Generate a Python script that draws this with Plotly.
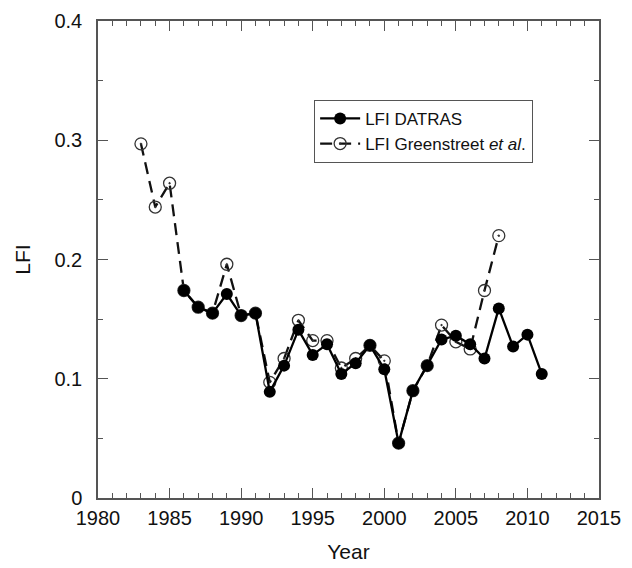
import plotly.graph_objects as go

datras_years = list(range(1986, 2012))
datras_lfi = [0.174, 0.160, 0.155, 0.171, 0.153, 0.155, 0.089, 0.111, 0.141, 0.120,
              0.129, 0.104, 0.113, 0.128, 0.108, 0.046, 0.090, 0.111, 0.133, 0.136,
              0.129, 0.117, 0.159, 0.127, 0.137, 0.104]

green_years = list(range(1983, 2009))
green_lfi = [0.297, 0.244, 0.264, 0.174, 0.160, 0.155, 0.196, 0.153, 0.155, 0.097,
             0.117, 0.149, 0.132, 0.132, 0.109, 0.117, 0.128, 0.115, 0.046, 0.090,
             0.111, 0.145, 0.131, 0.125, 0.174, 0.220]

x_ticks = [1980, 1985, 1990, 1995, 2000, 2005, 2010, 2015]
y_ticks = [0, 0.1, 0.2, 0.3, 0.4]
y_labels = ["0", "0.1", "0.2", "0.3", "0.4"]

FONT = "Liberation Sans, Arial"

fig = go.Figure()
fig.add_trace(go.Scatter(
    x=green_years, y=green_lfi, mode="lines+markers",
    name="LFI Greenstreet <i>et al</i>.",
    line=dict(color="#111111", width=2.3, dash="12px,7px"),
    marker=dict(symbol="circle-open-dot", size=12, color="#333333", line=dict(width=1.3, color="#333333")),
    legendrank=2,
))
fig.add_trace(go.Scatter(
    x=datras_years, y=datras_lfi, mode="lines+markers",
    name="LFI DATRAS",
    line=dict(color="#000000", width=2.3),
    marker=dict(symbol="circle", size=12, color="#000000"),
    legendrank=1,
))

axis_common = dict(
    showline=True, linecolor="#555555", linewidth=1.5, mirror="ticks",
    ticks="inside", ticklen=10, tickwidth=1.2, tickcolor="#555555",
    showgrid=False, zeroline=False, automargin=False,
    tickfont=dict(family=FONT, size=20, color="#111111"),
)
fig.update_xaxes(range=[1980, 2015], tickvals=x_ticks, **axis_common,
                 minor=dict(ticks="inside", dtick=1, ticklen=5, tickcolor="#555555", tickwidth=1),
                 title=dict(text="Year", font=dict(family=FONT, size=21, color="#111111"), standoff=17),
                 ticklabelstandoff=1)
fig.update_yaxes(range=[0, 0.4], tickvals=y_ticks, ticktext=y_labels, **axis_common,
                 minor=dict(ticks="inside", dtick=0.05, ticklen=5, tickcolor="#555555", tickwidth=1),
                 title=dict(text="LFI", font=dict(family=FONT, size=21, color="#111111"), standoff=18),
                 ticklabelstandoff=10)

fig.update_layout(
    width=624, height=560,
    margin=dict(l=90, r=33, t=13, b=70),
    plot_bgcolor="white", paper_bgcolor="white",
    legend=dict(x=0.431, y=0.835, xanchor="left", yanchor="top",
                bordercolor="#555555", borderwidth=1.2, bgcolor="white",
                font=dict(family=FONT, size=17, color="#111111"),
                tracegroupgap=0, itemwidth=40),
)
fig.write_html("out.html")
